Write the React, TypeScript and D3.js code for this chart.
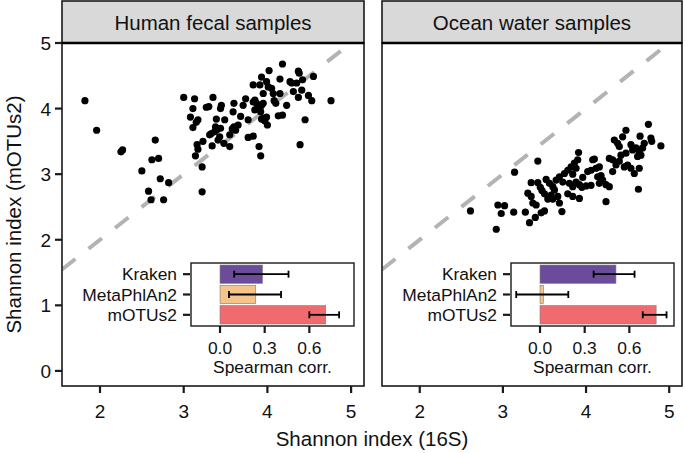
import React from "react";
import * as d3 from "d3";

const W = 685;
const H = 453;
const FONT = "'Liberation Sans', Arial, Helvetica, sans-serif";

// Shannon index: [16S, mOTUs2]
const humanPoints: [number, number][] = [
  [1.82, 4.12], [1.96, 3.67], [2.25, 3.34], [2.27, 3.37], [2.66, 3.52], [2.62, 3.22], [2.70, 3.24],
  [2.50, 3.05], [2.72, 2.93], [2.82, 2.87], [2.58, 2.74], [2.61, 2.61], [2.76, 2.61], [3.22, 2.73],
  [3.22, 3.11], [3.00, 4.17], [3.13, 4.15], [3.35, 4.17], [3.11, 4.00], [3.27, 4.02], [3.30, 4.03],
  [3.45, 4.05], [3.44, 4.00], [3.60, 4.08], [3.71, 4.05], [3.74, 4.15], [3.08, 3.87], [3.17, 3.83],
  [3.15, 3.79], [3.11, 3.71], [3.39, 3.84], [3.49, 3.83], [3.59, 3.95], [3.68, 3.88], [3.38, 3.72],
  [3.40, 3.68], [3.37, 3.65], [3.44, 3.70], [3.33, 3.62], [3.31, 3.60], [3.43, 3.57], [3.55, 3.60],
  [3.60, 3.72], [3.65, 3.75], [3.62, 3.67], [3.58, 3.69], [3.77, 3.83], [3.23, 3.50], [3.16, 3.45],
  [3.17, 3.38], [3.14, 3.28], [3.34, 3.43], [3.41, 3.52], [3.48, 3.47], [3.55, 3.42], [3.77, 3.56],
  [3.83, 3.58], [3.90, 3.42], [3.92, 3.28], [3.83, 4.10], [3.87, 4.08], [3.89, 4.03], [3.91, 4.00],
  [3.93, 4.05], [3.95, 4.08], [3.85, 4.13], [3.95, 3.85], [3.99, 3.87], [3.97, 3.81], [4.00, 3.75],
  [3.83, 4.36], [3.91, 4.36], [3.93, 4.48], [3.99, 4.41], [4.02, 4.58], [4.05, 4.31], [4.15, 4.45],
  [4.18, 4.68], [3.95, 4.23], [4.07, 4.23], [4.15, 4.23], [4.08, 4.12], [4.10, 4.08], [4.27, 4.41],
  [4.37, 4.57], [4.38, 4.54], [4.42, 4.44], [4.55, 4.49], [4.31, 4.26], [4.41, 4.28], [4.37, 4.17],
  [4.49, 4.20], [4.53, 4.12], [4.76, 4.12], [4.23, 4.05], [4.13, 3.89], [4.18, 3.90], [4.45, 3.83],
  [4.39, 3.45], [3.85, 3.98], [3.92, 3.95], [3.93, 3.84], [4.01, 4.33], [4.29, 4.39], [4.35, 4.39],
];

const oceanPoints: [number, number][] = [
  [2.61, 2.44], [2.92, 2.16], [2.94, 2.53], [3.02, 2.52], [2.98, 2.40], [3.13, 2.42], [3.14, 3.03],
  [3.27, 2.42], [3.32, 2.26], [3.39, 2.34], [3.46, 2.41], [3.50, 2.44], [3.42, 3.20], [3.34, 2.87],
  [3.42, 2.87], [3.52, 2.92], [3.30, 2.71], [3.34, 2.66], [3.36, 2.56], [3.40, 2.53], [3.45, 2.80],
  [3.47, 2.75], [3.50, 2.70], [3.56, 2.86], [3.60, 2.81], [3.64, 2.91], [3.62, 2.76], [3.58, 2.68],
  [3.54, 2.62], [3.60, 2.62], [3.66, 2.66], [3.68, 2.56], [3.71, 2.43], [3.68, 2.96], [3.74, 3.01],
  [3.78, 3.06], [3.82, 3.11], [3.84, 3.00], [3.88, 3.09], [3.86, 3.17], [3.90, 3.22], [3.91, 3.33],
  [3.80, 2.86], [3.84, 2.81], [3.88, 2.88], [3.92, 2.84], [3.92, 2.63], [3.84, 2.66], [3.78, 2.70],
  [3.95, 2.80], [4.00, 2.82], [4.06, 2.83], [4.10, 3.23], [4.02, 3.04], [4.06, 3.06], [4.12, 3.09],
  [4.16, 3.11], [4.14, 2.96], [4.18, 2.98], [4.20, 2.91], [4.16, 2.86], [4.24, 2.84], [4.28, 2.81],
  [4.24, 2.58], [4.28, 3.24], [4.32, 3.22], [4.36, 3.14], [4.32, 3.04], [4.34, 3.52], [4.38, 3.47],
  [4.40, 3.42], [4.44, 3.57], [4.48, 3.67], [4.42, 3.29], [4.48, 3.32], [4.46, 3.11], [4.50, 3.14],
  [4.54, 3.09], [4.58, 3.01], [4.54, 3.45], [4.56, 3.37], [4.60, 3.40], [4.64, 3.35], [4.68, 3.40],
  [4.70, 3.47], [4.66, 3.29], [4.62, 3.27], [4.64, 3.09], [4.75, 3.76], [4.65, 3.58], [4.78, 3.55],
  [4.79, 3.50], [4.90, 3.43], [4.63, 2.77], [4.08, 3.22], [3.72, 2.88], [3.96, 2.95], [4.40, 3.20],
];

const xTicks = [2, 3, 4, 5];
const yTicks = [0, 1, 2, 3, 4, 5];

const profilers = ["Kraken", "MetaPhlAn2", "mOTUs2"];
const corrTicks = [0, 0.3, 0.6];
const humanCorr = [0.285, 0.24, 0.71];
const humanLow = [0.095, 0.06, 0.6];
const humanHigh = [0.46, 0.41, 0.8];
const oceanCorr = [0.51, 0.022, 0.78];
const oceanLow = [0.36, -0.16, 0.69];
const oceanHigh = [0.635, 0.19, 0.85];

const barColors = ["#6b4c9a", "#f3c48b", "#ef6b6f"];

const stripTop = 1;
const panelTop = 43;
const panelBottom = 386;

interface PanelProps {
  x0: number;
  x1: number;
  title: string;
  points: [number, number][];
  corr: number[];
  low: number[];
  high: number[];
  showY: boolean;
  id: string;
}

function Panel({ x0, x1, title, points, corr, low, high, showY, id }: PanelProps) {
  const x = d3.scaleLinear().domain([1.546, 5.154]).range([x0, x1]);
  const y = d3.scaleLinear().domain([-0.23, 5]).range([panelBottom, panelTop]);

  const insetL = x0 + 129;
  const bx = d3.scaleLinear().domain([-0.195, 0.9]).range([insetL, insetL + 163]);
  const by = d3.scaleBand<string>().domain(profilers).range([263, 326]).paddingInner(0.1).paddingOuter(0.1);
  const [bTop, bBottom] = by.range();

  const diag = d3.line()([
    [x(1.546), y(1.546)],
    [x(5), y(5)],
  ]) as string;

  return (
    <g>
      <clipPath id={`clip-${id}`}>
        <rect x={x0} y={panelTop} width={x1 - x0} height={panelBottom - panelTop} />
      </clipPath>
      <rect x={x0} y={panelTop} width={x1 - x0} height={panelBottom - panelTop} fill="#fff" />
      <path
        d={diag}
        clipPath={`url(#clip-${id})`}
        stroke="#b3b3b3"
        strokeWidth={4}
        strokeDasharray="17 16.7"
        fill="none"
      />
      {points.map((p, i) => (
        <circle key={i} cx={x(p[0])} cy={y(p[1])} r={3.6} fill="#000" />
      ))}

      {/* inset: Spearman correlation */}
      <rect x={bx.range()[0]} y={bTop} width={163} height={bBottom - bTop} fill="#fff" stroke="#1a1a1a" strokeWidth={1.4} />
      {profilers.map((p, i) => {
        const yy = by(p)!;
        const mid = yy + by.bandwidth() / 2;
        return (
          <g key={p}>
            <rect
              x={bx(0)}
              y={yy}
              width={bx(corr[i]) - bx(0)}
              height={by.bandwidth()}
              fill={barColors[i]}
              stroke="#7a7a7a"
              strokeWidth={0.6}
            />
            <line x1={bx(low[i])} x2={bx(high[i])} y1={mid} y2={mid} stroke="#000" strokeWidth={1.8} />
            <line x1={bx(low[i])} x2={bx(low[i])} y1={mid - 3.5} y2={mid + 3.5} stroke="#000" strokeWidth={1.8} />
            <line x1={bx(high[i])} x2={bx(high[i])} y1={mid - 3.5} y2={mid + 3.5} stroke="#000" strokeWidth={1.8} />
            <line x1={insetL - 8} x2={insetL - 1} y1={mid} y2={mid} stroke="#1a1a1a" strokeWidth={2.2} />
            <text x={insetL - 14} y={mid + 6} textAnchor="end" fontSize={17.4} fill="#111">
              {p}
            </text>
          </g>
        );
      })}
      {corrTicks.map((t) => (
        <g key={t}>
          <line x1={bx(t)} x2={bx(t)} y1={bBottom} y2={bBottom + 7} stroke="#1a1a1a" strokeWidth={2.2} />
          <text x={bx(t)} y={bBottom + 28} textAnchor="middle" fontSize={17.4} fill="#111">
            {t.toFixed(1)}
          </text>
        </g>
      ))}
      <text x={insetL + 81.5} y={bBottom + 47} textAnchor="middle" fontSize={17.4} fill="#111">
        Spearman corr.
      </text>

      {/* panel border */}
      <rect x={x0} y={panelTop} width={x1 - x0} height={panelBottom - panelTop} fill="none" stroke="#1a1a1a" strokeWidth={1.6} />

      {/* strip */}
      <rect x={x0} y={stripTop} width={x1 - x0} height={panelTop - stripTop} fill="#d9d9d9" stroke="#1a1a1a" strokeWidth={1.6} />
      <line x1={x0} x2={x1} y1={panelTop} y2={panelTop} stroke="#000" strokeWidth={2.6} />
      <text x={(x0 + x1) / 2} y={29.5} textAnchor="middle" fontSize={20.5} fill="#111">
        {title}
      </text>

      {/* x axis */}
      {xTicks.map((t) => (
        <g key={t}>
          <line x1={x(t)} x2={x(t)} y1={panelBottom} y2={panelBottom + 7} stroke="#1a1a1a" strokeWidth={2.2} />
          <text x={x(t)} y={panelBottom + 32} textAnchor="middle" fontSize={19} fill="#111">
            {t}
          </text>
        </g>
      ))}

      {/* y axis */}
      {showY &&
        yTicks.map((t) => (
          <g key={t}>
            <line x1={x0 - 7} x2={x0} y1={y(t)} y2={y(t)} stroke="#1a1a1a" strokeWidth={2.2} />
            <text x={x0 - 11} y={y(t) + 7} textAnchor="end" fontSize={19} fill="#111">
              {t}
            </text>
          </g>
        ))}
    </g>
  );
}

export default function App() {
  return (
    <svg width={W} height={H} style={{ display: "block", position: "absolute", left: 0, top: 0, background: "#fff" }} fontFamily={FONT}>
      <Panel
        id="human"
        x0={62}
        x1={364}
        title="Human fecal samples"
        points={humanPoints}
        corr={humanCorr}
        low={humanLow}
        high={humanHigh}
        showY={true}
      />
      <Panel
        id="ocean"
        x0={382}
        x1={682}
        title="Ocean water samples"
        points={oceanPoints}
        corr={oceanCorr}
        low={oceanLow}
        high={oceanHigh}
        showY={false}
      />
      <text x={372} y={446} textAnchor="middle" fontSize={20.5} fill="#111">
        Shannon index (16S)
      </text>
      <text
        transform={`translate(21,214.5) rotate(-90)`}
        textAnchor="middle"
        fontSize={20.5}
        fill="#111"
      >
        Shannon index (mOTUs2)
      </text>
    </svg>
  );
}
